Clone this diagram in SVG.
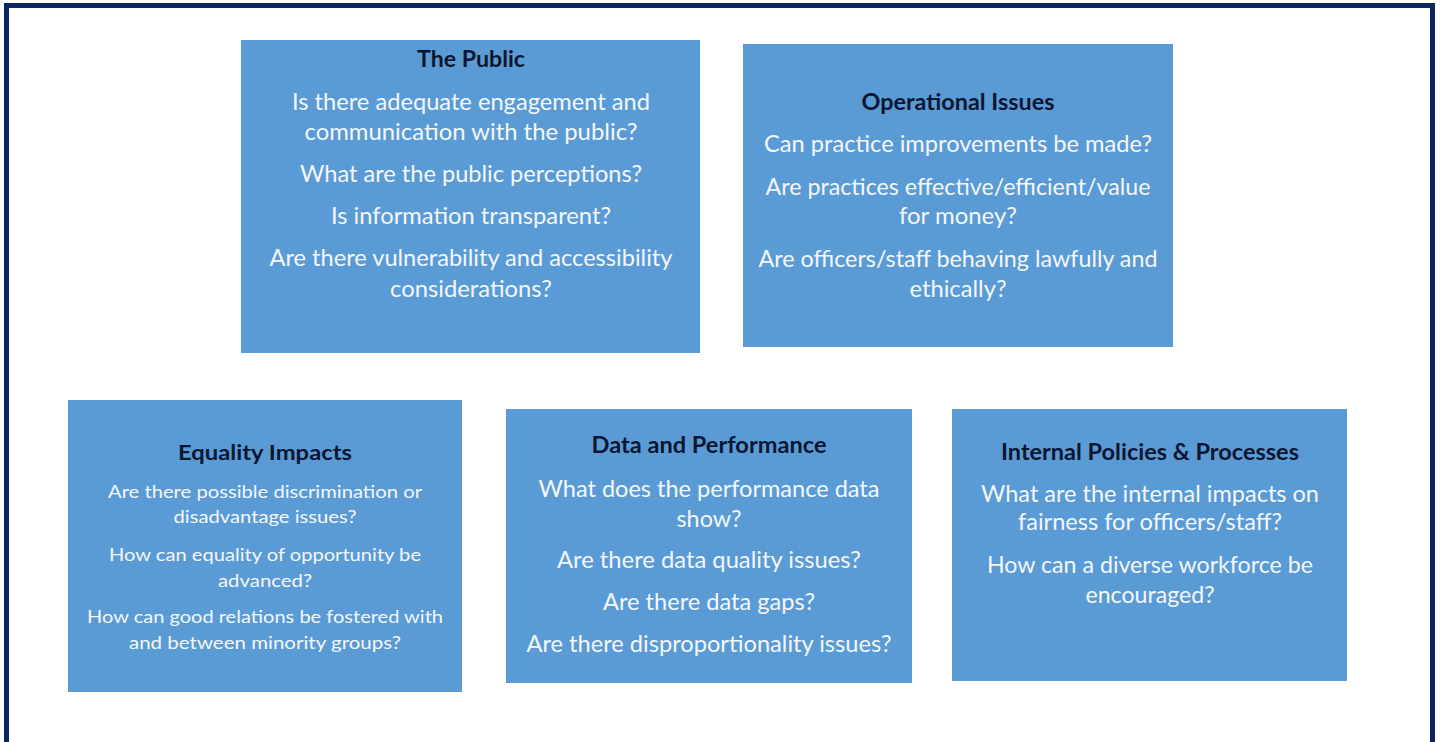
<svg xmlns="http://www.w3.org/2000/svg" width="1440" height="742" viewBox="0 0 1440 742">
<style>
.box{fill:#5b9bd5;}
.t{font-family:Lato,"Open Sans","Liberation Sans",sans-serif;font-weight:700;fill:#0b1630;text-anchor:middle;}
.q{font-family:Lato,"Open Sans","Liberation Sans",sans-serif;fill:#f3f7fc;text-anchor:middle;}
.l{font-size:23px;}
.s{font-size:17.5px;}
.tl{font-size:22px;}
.ts{font-size:21px;}
</style>
<rect width="1440" height="742" fill="#ffffff"/>
<rect x="6.5" y="5.5" width="1426" height="780" fill="none" stroke="#0a2562" stroke-width="5"/>
<g id="connectors"/>
<g id="the-public">
<rect class="box" x="241" y="40" width="459" height="313"/>
<text class="t tl" x="471" y="67" textLength="108" lengthAdjust="spacingAndGlyphs">The Public</text>
<text class="q l" x="471" y="110" textLength="358" lengthAdjust="spacingAndGlyphs">Is there adequate engagement and</text>
<text class="q l" x="471" y="140" textLength="333" lengthAdjust="spacingAndGlyphs">communication with the public?</text>
<text class="q l" x="471" y="182" textLength="342" lengthAdjust="spacingAndGlyphs">What are the public perceptions?</text>
<text class="q l" x="471" y="224" textLength="280" lengthAdjust="spacingAndGlyphs">Is information transparent?</text>
<text class="q l" x="471" y="266" textLength="403" lengthAdjust="spacingAndGlyphs">Are there vulnerability and accessibility</text>
<text class="q l" x="471" y="297" textLength="162" lengthAdjust="spacingAndGlyphs">considerations?</text>
</g>
<g id="operational-issues">
<rect class="box" x="743" y="44" width="430" height="303"/>
<text class="t tl" x="958" y="110" textLength="193" lengthAdjust="spacingAndGlyphs">Operational Issues</text>
<text class="q l" x="958" y="152" textLength="388" lengthAdjust="spacingAndGlyphs">Can practice improvements be made?</text>
<text class="q l" x="958" y="195" textLength="385" lengthAdjust="spacingAndGlyphs">Are practices effective/efficient/value</text>
<text class="q l" x="958" y="224" textLength="118" lengthAdjust="spacingAndGlyphs">for money?</text>
<text class="q l" x="958" y="267" textLength="399" lengthAdjust="spacingAndGlyphs">Are officers/staff behaving lawfully and</text>
<text class="q l" x="958" y="297" textLength="97" lengthAdjust="spacingAndGlyphs">ethically?</text>
</g>
<g id="equality-impacts">
<rect class="box" x="68" y="400" width="394" height="292"/>
<text class="t ts" x="265" y="460" textLength="174" lengthAdjust="spacingAndGlyphs">Equality Impacts</text>
<text class="q s" x="265" y="498" textLength="314" lengthAdjust="spacingAndGlyphs">Are there possible discrimination or</text>
<text class="q s" x="265" y="523" textLength="183" lengthAdjust="spacingAndGlyphs">disadvantage issues?</text>
<text class="q s" x="265" y="561" textLength="312" lengthAdjust="spacingAndGlyphs">How can equality of opportunity be</text>
<text class="q s" x="265" y="587" textLength="94" lengthAdjust="spacingAndGlyphs">advanced?</text>
<text class="q s" x="265" y="623" textLength="356" lengthAdjust="spacingAndGlyphs">How can good relations be fostered with</text>
<text class="q s" x="265" y="649" textLength="272" lengthAdjust="spacingAndGlyphs">and between minority groups?</text>
</g>
<g id="data-and-performance">
<rect class="box" x="506" y="409" width="406" height="274"/>
<text class="t tl" x="709" y="453" textLength="235" lengthAdjust="spacingAndGlyphs">Data and Performance</text>
<text class="q l" x="709" y="497" textLength="341" lengthAdjust="spacingAndGlyphs">What does the performance data</text>
<text class="q l" x="709" y="527" textLength="65" lengthAdjust="spacingAndGlyphs">show?</text>
<text class="q l" x="709" y="568" textLength="304" lengthAdjust="spacingAndGlyphs">Are there data quality issues?</text>
<text class="q l" x="709" y="610" textLength="212" lengthAdjust="spacingAndGlyphs">Are there data gaps?</text>
<text class="q l" x="709" y="652" textLength="365" lengthAdjust="spacingAndGlyphs">Are there disproportionality issues?</text>
</g>
<g id="internal-policies">
<rect class="box" x="952" y="409" width="395" height="272"/>
<text class="t tl" x="1150" y="460" textLength="298" lengthAdjust="spacingAndGlyphs">Internal Policies &amp; Processes</text>
<text class="q l" x="1150" y="502" textLength="338" lengthAdjust="spacingAndGlyphs">What are the internal impacts on</text>
<text class="q l" x="1150" y="530" textLength="264" lengthAdjust="spacingAndGlyphs">fairness for officers/staff?</text>
<text class="q l" x="1150" y="573" textLength="326" lengthAdjust="spacingAndGlyphs">How can a diverse workforce be</text>
<text class="q l" x="1150" y="603" textLength="129" lengthAdjust="spacingAndGlyphs">encouraged?</text>
</g>
</svg>
